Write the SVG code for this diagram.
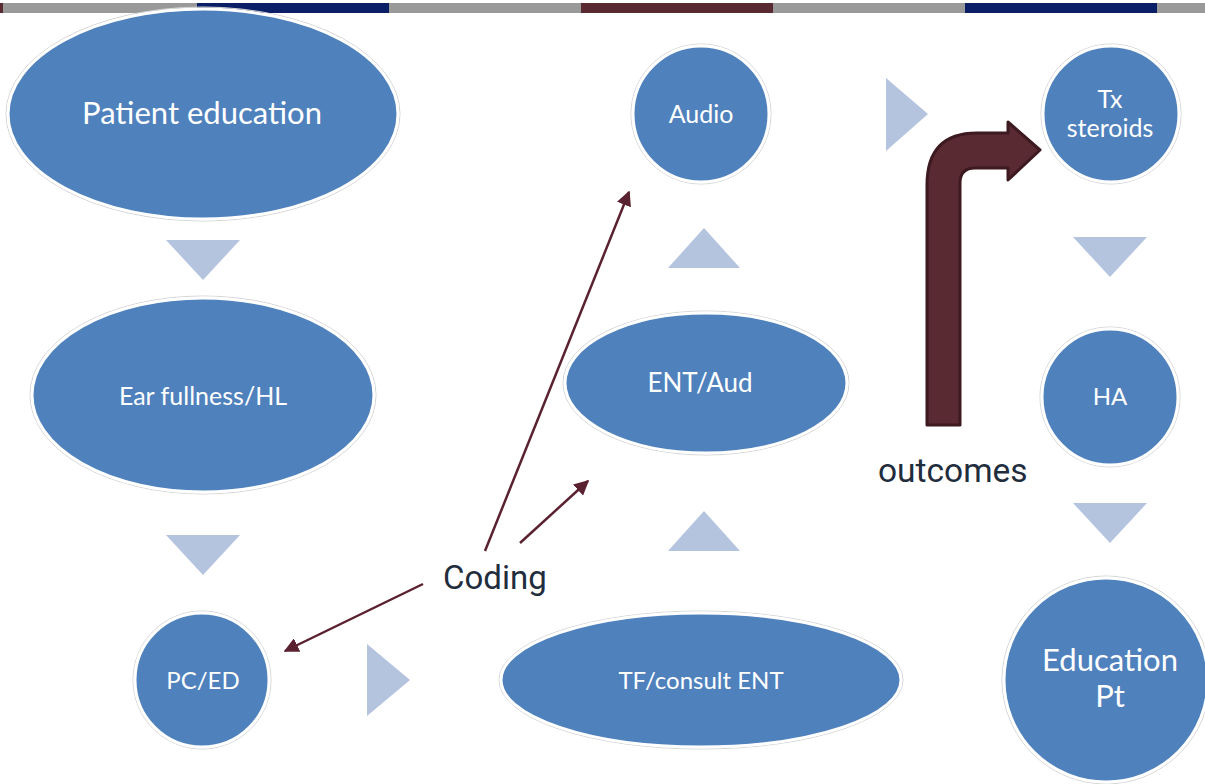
<svg xmlns="http://www.w3.org/2000/svg" width="1205" height="784" viewBox="0 0 1205 784">
<defs>
<style>
.n{fill:#4f81bd;stroke:#ffffff;stroke-width:3}
.h{fill:none;stroke:#d4d4d4;stroke-width:1}
.t{fill:#ffffff;font-family:Lato,"Open Sans",sans-serif;text-anchor:middle}
.tri{fill:#b4c4df}
.c{stroke:#5a2230;stroke-width:2.5;fill:none;marker-end:url(#ah)}
.lbl{fill:#1f2d3d;font-family:Roboto,"Liberation Sans",sans-serif}
</style>
<marker id="ah" viewBox="0 0 10 10" refX="9" refY="5" markerWidth="6" markerHeight="6" orient="auto" markerUnits="strokeWidth">
<path d="M0,0 L10,5 L0,10 z" fill="#5a2230"/>
</marker>
</defs>
<rect width="1205" height="784" fill="#ffffff"/>
<g id="topbar">
<rect x="0" y="3" width="3" height="10" fill="#5a2a33"/>
<rect x="3" y="3" width="194" height="10" fill="#999999"/>
<rect x="197" y="3" width="192" height="10" fill="#0b1f66"/>
<rect x="389" y="3" width="192" height="10" fill="#999999"/>
<rect x="581" y="3" width="192" height="10" fill="#5a2a33"/>
<rect x="773" y="3" width="192" height="10" fill="#999999"/>
<rect x="965" y="3" width="192" height="10" fill="#0b1f66"/>
<rect x="1157" y="3" width="48" height="10" fill="#999999"/>
</g>
<g id="triangles">
<polygon class="tri" points="166,240 240,240 203,280"/>
<polygon class="tri" points="166,535 240,535 203,575"/>
<polygon class="tri" points="367,644 367,716 410,680"/>
<polygon class="tri" points="668,268 740,268 704,228"/>
<polygon class="tri" points="668,551 740,551 704,511"/>
<polygon class="tri" points="886,78 886,151 928,114"/>
<polygon class="tri" points="1073,237 1147,237 1110,277"/>
<polygon class="tri" points="1073,503 1147,503 1110,543"/>
</g>
<g id="patient-education">
<ellipse class="h" cx="203" cy="114" rx="197" ry="107"/>
<ellipse class="n" cx="203" cy="114" rx="195" ry="105"/>
<text class="t" x="202" y="124" font-size="31">Patient education</text>
</g>
<g id="ear-fullness">
<ellipse class="h" cx="203" cy="395" rx="173" ry="99"/>
<ellipse class="n" cx="203" cy="395" rx="171" ry="97"/>
<text class="t" x="203" y="405" font-size="25">Ear fullness/HL</text>
</g>
<g id="pc-ed">
<circle class="h" cx="202" cy="680" r="69"/>
<circle class="n" cx="202" cy="680" r="67"/>
<text class="t" x="203" y="689" font-size="24">PC/ED</text>
</g>
<g id="tf-consult">
<ellipse class="h" cx="701" cy="680" rx="202" ry="69"/>
<ellipse class="n" cx="701" cy="680" rx="200" ry="67"/>
<text class="t" x="701" y="689" font-size="24">TF/consult ENT</text>
</g>
<g id="ent-aud">
<ellipse class="h" cx="706" cy="383" rx="143" ry="72"/>
<ellipse class="n" cx="706" cy="383" rx="141" ry="70"/>
<text class="t" x="700" y="392" font-size="26">ENT/Aud</text>
</g>
<g id="audio">
<circle class="h" cx="701" cy="114" r="70"/>
<circle class="n" cx="701" cy="114" r="68"/>
<text class="t" x="701" y="123" font-size="25">Audio</text>
</g>
<g id="tx-steroids">
<circle class="h" cx="1111" cy="114" r="70"/>
<circle class="n" cx="1111" cy="114" r="68"/>
<text class="t" x="1110" y="108" font-size="25">Tx</text>
<text class="t" x="1110" y="137" font-size="25">steroids</text>
</g>
<g id="ha">
<circle class="h" cx="1110" cy="397" r="70"/>
<circle class="n" cx="1110" cy="397" r="68"/>
<text class="t" x="1110" y="405" font-size="24">HA</text>
</g>
<g id="education-pt">
<circle class="h" cx="1106" cy="680" r="104"/>
<circle class="n" cx="1106" cy="680" r="102"/>
<text class="t" x="1110" y="671" font-size="31">Education</text>
<text class="t" x="1110" y="707" font-size="31">Pt</text>
</g>
<g id="outcomes-arrow">
<path d="M927,425 L927,185 Q927,133 977,133 L1008,133 L1008,122 L1040,150 L1008,180 L1008,168 L975,168 Q960,168 960,183 L960,425 Z" fill="#5a2a33" stroke="#3d1920" stroke-width="3" stroke-linejoin="round"/>
</g>
<g id="connectors">
<line class="c" x1="485" y1="551" x2="629" y2="192"/>
<line class="c" x1="520" y1="543" x2="588" y2="481"/>
<line class="c" x1="423" y1="584" x2="285" y2="651"/>
</g>
<g id="labels">
<text class="lbl" x="443" y="589" font-size="33">Coding</text>
<text class="lbl" x="878" y="482" font-size="33.5">outcomes</text>
</g>
</svg>
